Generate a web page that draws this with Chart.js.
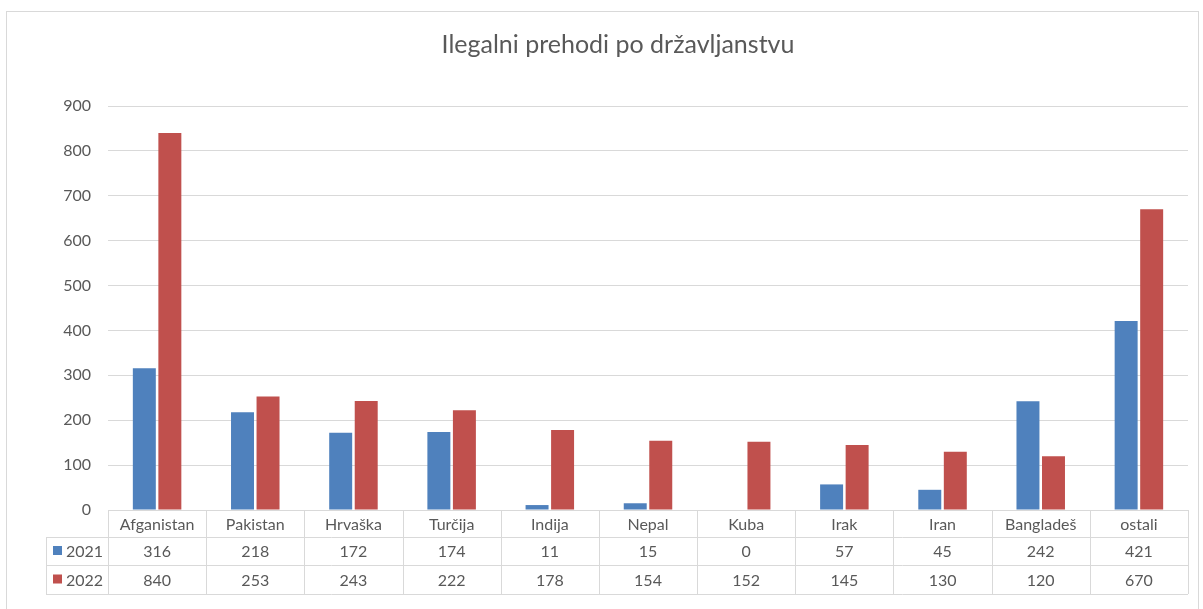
<!DOCTYPE html>
<html>
<head>
<meta charset="utf-8">
<script src="https://cdn.jsdelivr.net/npm/chart.js@4"></script>
<style>
  body { margin: 0; background: #fff; }
</style>
</head>
<body>
<canvas id="chart" width="1203" height="609"></canvas>
<script>
const categories = ['Afganistan', 'Pakistan', 'Hrvaška', 'Turčija', 'Indija', 'Nepal', 'Kuba', 'Irak', 'Iran', 'Bangladeš', 'ostali'];
const values2021 = [316, 218, 172, 174, 11, 15, 0, 57, 45, 242, 421];
const values2022 = [840, 253, 243, 222, 178, 154, 152, 145, 130, 120, 670];
const seriesNames = ['2021', '2022'];
const colors = ['#4f81bd', '#c0504d'];

const textColor = '#595959';
const lineColor = '#d9d9d9';
const fontFamily = 'Lato, "Open Sans", sans-serif';

// frame around the whole chart, like the excel chart area
const framePlugin = {
  id: 'frame',
  beforeDraw(chart) {
    const c = chart.ctx;
    c.save();
    c.fillStyle = '#fff';
    c.fillRect(0, 0, chart.width, chart.height);
    c.strokeStyle = lineColor;
    c.lineWidth = 1;
    c.strokeRect(6.5, 11.5, 1192, 640);
    c.restore();
  }
};

// data table below the plot
const tablePlugin = {
  id: 'dataTable',
  afterDraw(chart) {
    const c = chart.ctx;
    const x = chart.scales.x;
    const area = chart.chartArea;
    const rows = [area.bottom, area.bottom + 27, area.bottom + 55, area.bottom + 84];
    const legLeft = 46;
    const half = (x.getPixelForValue(1) - x.getPixelForValue(0)) / 2;

    c.save();
    c.strokeStyle = lineColor;
    c.lineWidth = 1;
    c.beginPath();
    c.moveTo(area.left, rows[0] + 0.5);
    c.lineTo(area.right, rows[0] + 0.5);
    for (let r = 1; r < rows.length; r++) {
      c.moveTo(legLeft, rows[r] + 0.5);
      c.lineTo(area.right, rows[r] + 0.5);
    }
    for (let i = 0; i <= categories.length; i++) {
      const px = Math.round(x.getPixelForValue(i) - half) + 0.5;
      c.moveTo(px, rows[0]);
      c.lineTo(px, rows[3]);
    }
    c.moveTo(legLeft + 0.5, rows[1]);
    c.lineTo(legLeft + 0.5, rows[3]);
    c.stroke();

    c.fillStyle = textColor;
    c.font = '16px ' + fontFamily;
    c.textAlign = 'center';
    c.textBaseline = 'middle';
    const data = [values2021, values2022];
    categories.forEach((cat, i) => {
      const cx = x.getPixelForValue(i);
      c.fillText(cat, cx, (rows[0] + rows[1]) / 2 + 1);
      data.forEach((vals, s) => {
        c.fillText(String(vals[i]), cx, (rows[s + 1] + rows[s + 2]) / 2 + 1);
      });
    });

    c.textAlign = 'left';
    seriesNames.forEach((name, s) => {
      const cy = (rows[s + 1] + rows[s + 2]) / 2;
      c.fillStyle = colors[s];
      c.fillRect(53, cy - 5, 9, 9);
      c.fillStyle = textColor;
      c.fillText(name, 66, cy + 1);
    });
    c.restore();
  }
};

new Chart(document.getElementById('chart').getContext('2d'), {
  type: 'bar',
  data: {
    labels: categories,
    datasets: [
      { label: seriesNames[0], data: values2021, backgroundColor: colors[0] },
      { label: seriesNames[1], data: values2022, backgroundColor: colors[1] }
    ]
  },
  options: {
    responsive: false,
    animation: false,
    layout: { padding: { top: 20, left: 48, right: 15, bottom: 99 } },
    datasets: { bar: { categoryPercentage: 0.52, barPercentage: 0.9 } },
    plugins: {
      legend: { display: false },
      tooltip: { enabled: false },
      title: {
        display: true,
        text: 'Ilegalni prehodi po državljanstvu',
        color: textColor,
        font: { family: fontFamily, size: 25, weight: 'normal', lineHeight: 1.2 },
        padding: { top: 10, bottom: 46 }
      }
    },
    scales: {
      x: {
        display: false
      },
      y: {
        min: 0,
        max: 900,
        ticks: { stepSize: 100, color: textColor, padding: 17, font: { family: fontFamily, size: 16 } },
        grid: { color: lineColor, drawTicks: false },
        border: { display: false },
        afterFit(scale) { scale.width = 60; }
      }
    }
  },
  plugins: [framePlugin, tablePlugin]
});
</script>
</body>
</html>
